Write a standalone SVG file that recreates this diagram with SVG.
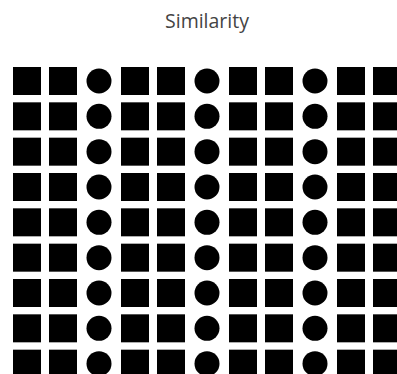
<svg xmlns="http://www.w3.org/2000/svg" xmlns:xlink="http://www.w3.org/1999/xlink" width="397" height="374" viewBox="0 0 397 374">
<style>
.sq{fill:#000}
.ci{fill:#000}
.title{font-family:"Open Sans","Noto Sans",sans-serif;font-size:19.5px;fill:#444;text-anchor:middle}
</style>
<defs>
<g id="row">
<rect class="sq" x="13" y="0" width="28" height="28"/>
<rect class="sq" x="49" y="0" width="28" height="28"/>
<circle class="ci" cx="99" cy="14" r="12.5"/>
<rect class="sq" x="121" y="0" width="28" height="28"/>
<rect class="sq" x="157" y="0" width="28" height="28"/>
<circle class="ci" cx="207" cy="14" r="12.5"/>
<rect class="sq" x="229" y="0" width="28" height="28"/>
<rect class="sq" x="265" y="0" width="28" height="28"/>
<circle class="ci" cx="315" cy="14" r="12.5"/>
<rect class="sq" x="337" y="0" width="28" height="28"/>
<rect class="sq" x="373" y="0" width="28" height="28"/>
</g>
</defs>
<rect x="0" y="0" width="397" height="374" fill="#fff"/>
<text class="title" x="207" y="28">Similarity</text>
<g id="grid">
<use xlink:href="#row" href="#row" y="67"/>
<use xlink:href="#row" href="#row" y="102.33"/>
<use xlink:href="#row" href="#row" y="137.67"/>
<use xlink:href="#row" href="#row" y="173"/>
<use xlink:href="#row" href="#row" y="208.33"/>
<use xlink:href="#row" href="#row" y="243.67"/>
<use xlink:href="#row" href="#row" y="279"/>
<use xlink:href="#row" href="#row" y="314.33"/>
<use xlink:href="#row" href="#row" y="349.67"/>
</g>
</svg>
